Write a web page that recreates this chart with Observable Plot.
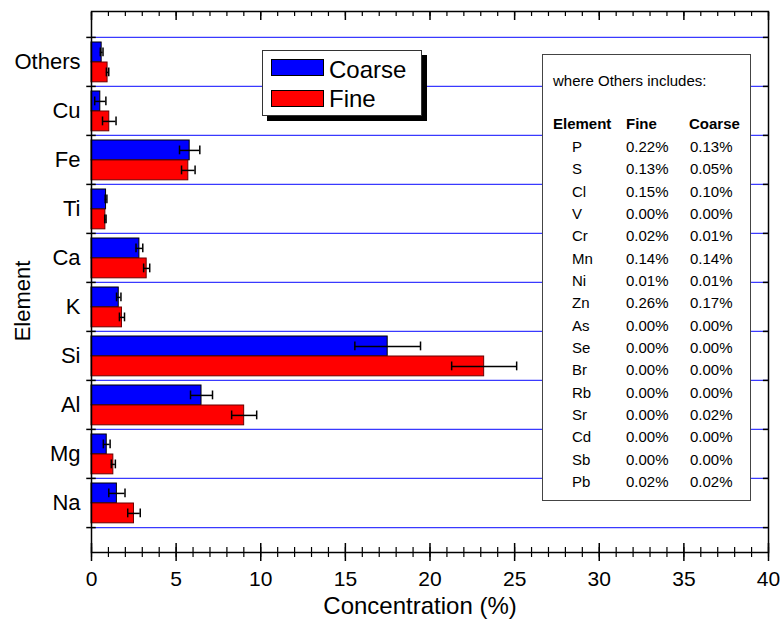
<!DOCTYPE html>
<html><head><meta charset="utf-8">
<script src="https://cdn.jsdelivr.net/npm/d3@7"></script>
<script src="https://cdn.jsdelivr.net/npm/@observablehq/plot@0.6"></script>
<style>
body{margin:0;background:#fff;font-family:"Liberation Sans",Arial,sans-serif;color:#000;}
#wrap{position:relative;width:783px;height:623px;overflow:hidden;}
#chart svg{display:block;}
.abs{position:absolute;white-space:nowrap;line-height:1;}
#legend{position:absolute;left:262px;top:50px;width:158px;height:64px;border:1px solid #333;background:#fff;box-shadow:5px 5px 0 #000;}
#table{position:absolute;left:542px;top:54px;width:207px;height:445px;border:1.5px solid #444;background:#fff;}
.sw{position:absolute;border:1px solid #000;box-sizing:border-box;}
</style></head><body>
<div id="wrap"><div id="chart"></div><div id="legend"></div><div id="table"></div></div>
<script>
// ---- data ----
const elements = ["Others","Cu","Fe","Ti","Ca","K","Si","Al","Mg","Na"];
const seriesNames = ["Coarse","Fine"];
const seriesColors = ["#0000ff","#ff0000"];
const coarse    = [0.60, 0.52, 5.80, 0.86, 2.83, 1.61, 17.50, 6.50, 0.90, 1.50];
const coarseErr = [0.08, 0.33, 0.60, 0.05, 0.20, 0.13, 1.94, 0.65, 0.20, 0.48];
const fine      = [0.95, 1.05, 5.72, 0.82, 3.26, 1.80, 23.20, 9.02, 1.29, 2.51];
const fineErr   = [0.07, 0.40, 0.40, 0.04, 0.18, 0.15, 1.92, 0.74, 0.12, 0.37];
const xTicksMajor = [0,5,10,15,20,25,30,35,40];
const xTicksMinor = d3.range(0,41,1);
const othersTitle = "where Others includes:";
const othersHeader = ["Element","Fine","Coarse"];
const othersElements = ["P","S","Cl","V","Cr","Mn","Ni","Zn","As","Se","Br","Rb","Sr","Cd","Sb","Pb"];
const othersFine   = ["0.22%","0.13%","0.15%","0.00%","0.02%","0.14%","0.01%","0.26%","0.00%","0.00%","0.00%","0.00%","0.00%","0.00%","0.00%","0.02%"];
const othersCoarse = ["0.13%","0.05%","0.10%","0.00%","0.01%","0.14%","0.01%","0.17%","0.00%","0.00%","0.00%","0.00%","0.02%","0.00%","0.00%","0.02%"];
const xLabel = "Concentration (%)";
const yLabel = "Element";

// ---- layout ----
const W = 783, H = 623, mt = 11, mb = 71, ml = 91, mr = 15;
const bw = (H - mt - mb) / (elements.length + 1);
const lineColor = "#3a3aff";

const coarseRows = elements.map((e,i)=>({element:e, value:coarse[i], err:coarseErr[i]}));
const fineRows = elements.map((e,i)=>({element:e, value:fine[i], err:fineErr[i]}));
const lastEl = [elements[elements.length-1]];

function errMarks(rows, center){
  const half = 4.5;
  return [
    Plot.ruleY(rows, {y:"element", x1:d=>d.value-d.err, x2:d=>d.value+d.err, dy:center-bw/2, stroke:"#000", strokeWidth:1.5}),
    Plot.tickX(rows, {x:d=>d.value-d.err, y:"element", insetTop:center-half, insetBottom:bw-center-half, stroke:"#000", strokeWidth:1.5}),
    Plot.tickX(rows, {x:d=>d.value+d.err, y:"element", insetTop:center-half, insetBottom:bw-center-half, stroke:"#000", strokeWidth:1.5})
  ];
}

const chart = Plot.plot({
  width: W, height: H,
  marginTop: mt, marginBottom: mb, marginLeft: ml, marginRight: mr,
  style: {fontFamily: "'Liberation Sans', Arial, sans-serif", color: "#000", background: "#fff"},
  x: {domain: [0, 40]},
  y: {domain: elements, type: "band", paddingInner: 0, paddingOuter: 0.5},
  marks: [
    Plot.ruleY(elements, {y: d=>d, dy: -bw/2, stroke: lineColor, strokeWidth: 1.3}),
    Plot.ruleY(lastEl, {y: d=>d, dy: bw/2, stroke: lineColor, strokeWidth: 1.3}),
    Plot.barX(coarseRows, {x:"value", y:"element", fill: seriesColors[0], stroke:"#000", strokeWidth:1, insetTop:5, insetBottom:bw-25}),
    Plot.barX(fineRows, {x:"value", y:"element", fill: seriesColors[1], stroke:"#6a0000", strokeWidth:1, insetTop:25, insetBottom:bw-45}),
    ...errMarks(coarseRows, 15),
    ...errMarks(fineRows, 35),
    Plot.ruleY(elements, {y: d=>d, dy: -bw/2, x1: -0.28, x2: 0.28, stroke:"#000", strokeWidth:1.5}),
    Plot.ruleY(lastEl, {y: d=>d, dy: bw/2, x1: -0.28, x2: 0.28, stroke:"#000", strokeWidth:1.5}),
    Plot.ruleY(elements, {y: d=>d, dy: -bw/2, x1: 39.7, x2: 40, stroke:"#000", strokeWidth:1.5}),
    Plot.ruleY(lastEl, {y: d=>d, dy: bw/2, x1: 39.7, x2: 40, stroke:"#000", strokeWidth:1.5}),
    Plot.frame({stroke:"#000", strokeWidth:1.5}),
    Plot.axisX({ticks: xTicksMinor, tickSize: 10, dy: -5, text: null, label: null, strokeWidth: 1.2}),
    Plot.axisX({ticks: xTicksMajor, tickSize: 18, dy: -9, text: null, label: null, strokeWidth: 1.5}),
    Plot.axisX({anchor: "top", ticks: xTicksMinor, tickSize: 4, dy: 4, text: null, label: null, strokeWidth: 1.2}),
    Plot.axisX({anchor: "top", ticks: xTicksMajor, tickSize: 8, dy: 8, text: null, label: null, strokeWidth: 1.5}),
    Plot.axisX({ticks: xTicksMajor, tickSize: 0, tickPadding: 19, fontSize: 21, label: null}),
    Plot.axisY({tickSize: 0, tickPadding: 11, fontSize: 22, label: null}),
    Plot.text([xLabel], {text: d=>d, frameAnchor: "bottom", dx: -10, dy: 54, lineAnchor: "middle", fontSize: 24}),
    Plot.text([yLabel], {text: d=>d, frameAnchor: "left", textAnchor: "middle", dx: -69, dy: 19, rotate: -90, fontSize: 22})
  ]
});
document.getElementById("chart").appendChild(chart);

// ---- legend & table text ----
const wrap = document.getElementById("wrap");
function addAbs(text, left, baseline, size, weight){
  const d = document.createElement("div");
  d.className = "abs";
  d.textContent = text;
  d.style.left = left + "px";
  d.style.top = (baseline - 0.847*size) + "px";
  d.style.fontSize = size + "px";
  if (weight) d.style.fontWeight = weight;
  wrap.appendChild(d);
}
seriesNames.forEach((s,i)=>{
  const sw = document.createElement("div");
  sw.className = "sw";
  sw.style.left = "271px"; sw.style.top = (59 + i*30.5) + "px";
  sw.style.width = "53px"; sw.style.height = "17px";
  sw.style.background = seriesColors[i];
  wrap.appendChild(sw);
  addAbs(s, 329, 78 + i*29, 24);
});

addAbs(othersTitle, 553, 85.7, 15);
const colX = [553, 626, 689];
othersHeader.forEach((h,i)=> addAbs(h, colX[i], 128.5, 15, "bold"));
othersElements.forEach((e,i)=>{
  const b = 151.7 + i*22.33;
  addAbs(e, 572, b, 15);
  addAbs(othersFine[i], 626, b, 15);
  addAbs(othersCoarse[i], 690, b, 15);
});
</script>
</body></html>
